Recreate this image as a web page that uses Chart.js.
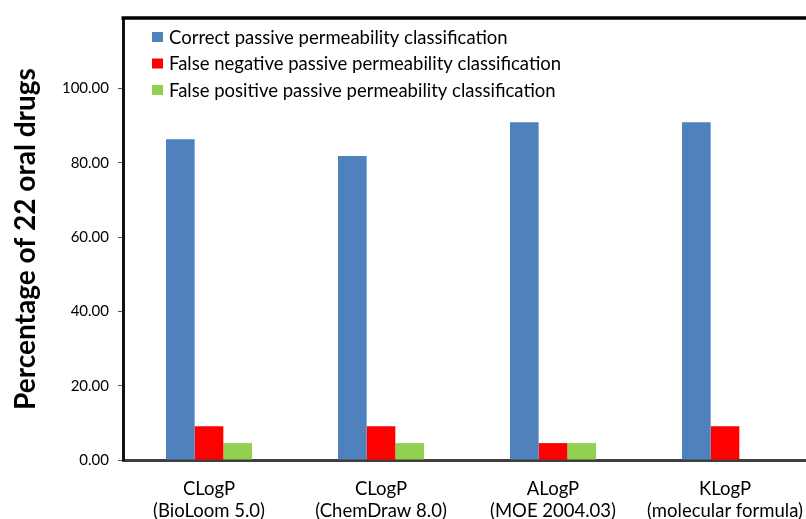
<!DOCTYPE html>
<html>
<head>
<meta charset="utf-8">
<script src="https://cdn.jsdelivr.net/npm/chart.js@4"></script>
<style>
  html, body { margin: 0; padding: 0; background: #fff; overflow: hidden; }
  #wrap { width: 806px; height: 519px; overflow: hidden; }
</style>
</head>
<body>
<div id="wrap"><canvas id="chart" width="815" height="519"></canvas></div>
<script>
// data
const categories = [
  ["CLogP", "(BioLoom 5.0)"],
  ["CLogP", "(ChemDraw 8.0)"],
  ["ALogP", "(MOE 2004.03)"],
  ["KLogP", "(molecular formula)"]
];
const seriesNames = [
  "Correct passive permeability classification",
  "False negative passive permeability classification",
  "False positive passive permeability classification"
];
const correctVals = [86.36, 81.82, 90.91, 90.91];
const falseNegVals = [9.09, 9.09, 4.55, 9.09];
const falsePosVals = [4.55, 4.55, 4.55, 0];
const colors = ["#4F81BD", "#FF0000", "#92D050"];

// little legend inside the plot, plus the black frame line on top
const frameAndLegend = {
  id: "frameAndLegend",
  afterDraw(chart) {
    const ctx = chart.ctx;
    const a = chart.chartArea;
    ctx.save();
    ctx.strokeStyle = "#000";
    ctx.lineWidth = 3.5;
    ctx.beginPath();
    ctx.moveTo(a.left - 1.5, a.top);
    ctx.lineTo(chart.width, a.top);
    ctx.stroke();

    ctx.font = "18.5px Lato";
    ctx.textBaseline = "middle";
    chart.data.datasets.forEach((ds, i) => {
      const y = 37 + i * 26.5;
      ctx.fillStyle = ds.backgroundColor;
      ctx.fillRect(152, y - 5, 11, 10);
      ctx.fillStyle = "#000";
      ctx.fillText(ds.label, 169, y + 1);
    });
    ctx.restore();
  }
};

const ctx = document.getElementById("chart").getContext("2d");
new Chart(ctx, {
  type: "bar",
  data: {
    labels: categories,
    datasets: [
      { label: seriesNames[0], data: correctVals, backgroundColor: colors[0] },
      { label: seriesNames[1], data: falseNegVals, backgroundColor: colors[1] },
      { label: seriesNames[2], data: falsePosVals, backgroundColor: colors[2] }
    ]
  },
  options: {
    responsive: false,
    animation: false,
    layout: { padding: { top: 14, right: 4, left: 0, bottom: 0 } },
    datasets: { bar: { categoryPercentage: 0.5, barPercentage: 1 } },
    plugins: {
      legend: { display: false },
      tooltip: { enabled: false }
    },
    scales: {
      x: {
        grid: { display: false, drawTicks: false },
        border: { display: true, color: "#3f3f3f", width: 3 },
        ticks: {
          color: "#000",
          padding: 18,
          font: { family: "Lato", size: 18.5, lineHeight: 1.19 },
          maxRotation: 0,
          autoSkip: false
        },
        afterFit(scale) {
          scale.height = 59;
          // last label may overflow the canvas, as in the original
          scale.paddingLeft = 0;
          scale.paddingRight = 0;
        }
      },
      y: {
        min: 0,
        max: 119,
        grid: { drawOnChartArea: false, drawTicks: true, tickLength: 5, tickColor: "#555" },
        border: { display: true, color: "#111", width: 3 },
        ticks: {
          stepSize: 20,
          includeBounds: false,
          color: "#000",
          padding: 9,
          font: { family: "Lato", size: 15 },
          callback: (v) => v.toFixed(2)
        },
        title: {
          display: true,
          text: "Percentage of 22 oral drugs",
          color: "#000",
          font: { family: "Lato", size: 28, weight: "bold" },
          padding: { top: 9, bottom: 0 }
        },
        afterFit(scale) { scale.width = 123; }
      }
    }
  },
  plugins: [frameAndLegend]
});
</script>
</body>
</html>
